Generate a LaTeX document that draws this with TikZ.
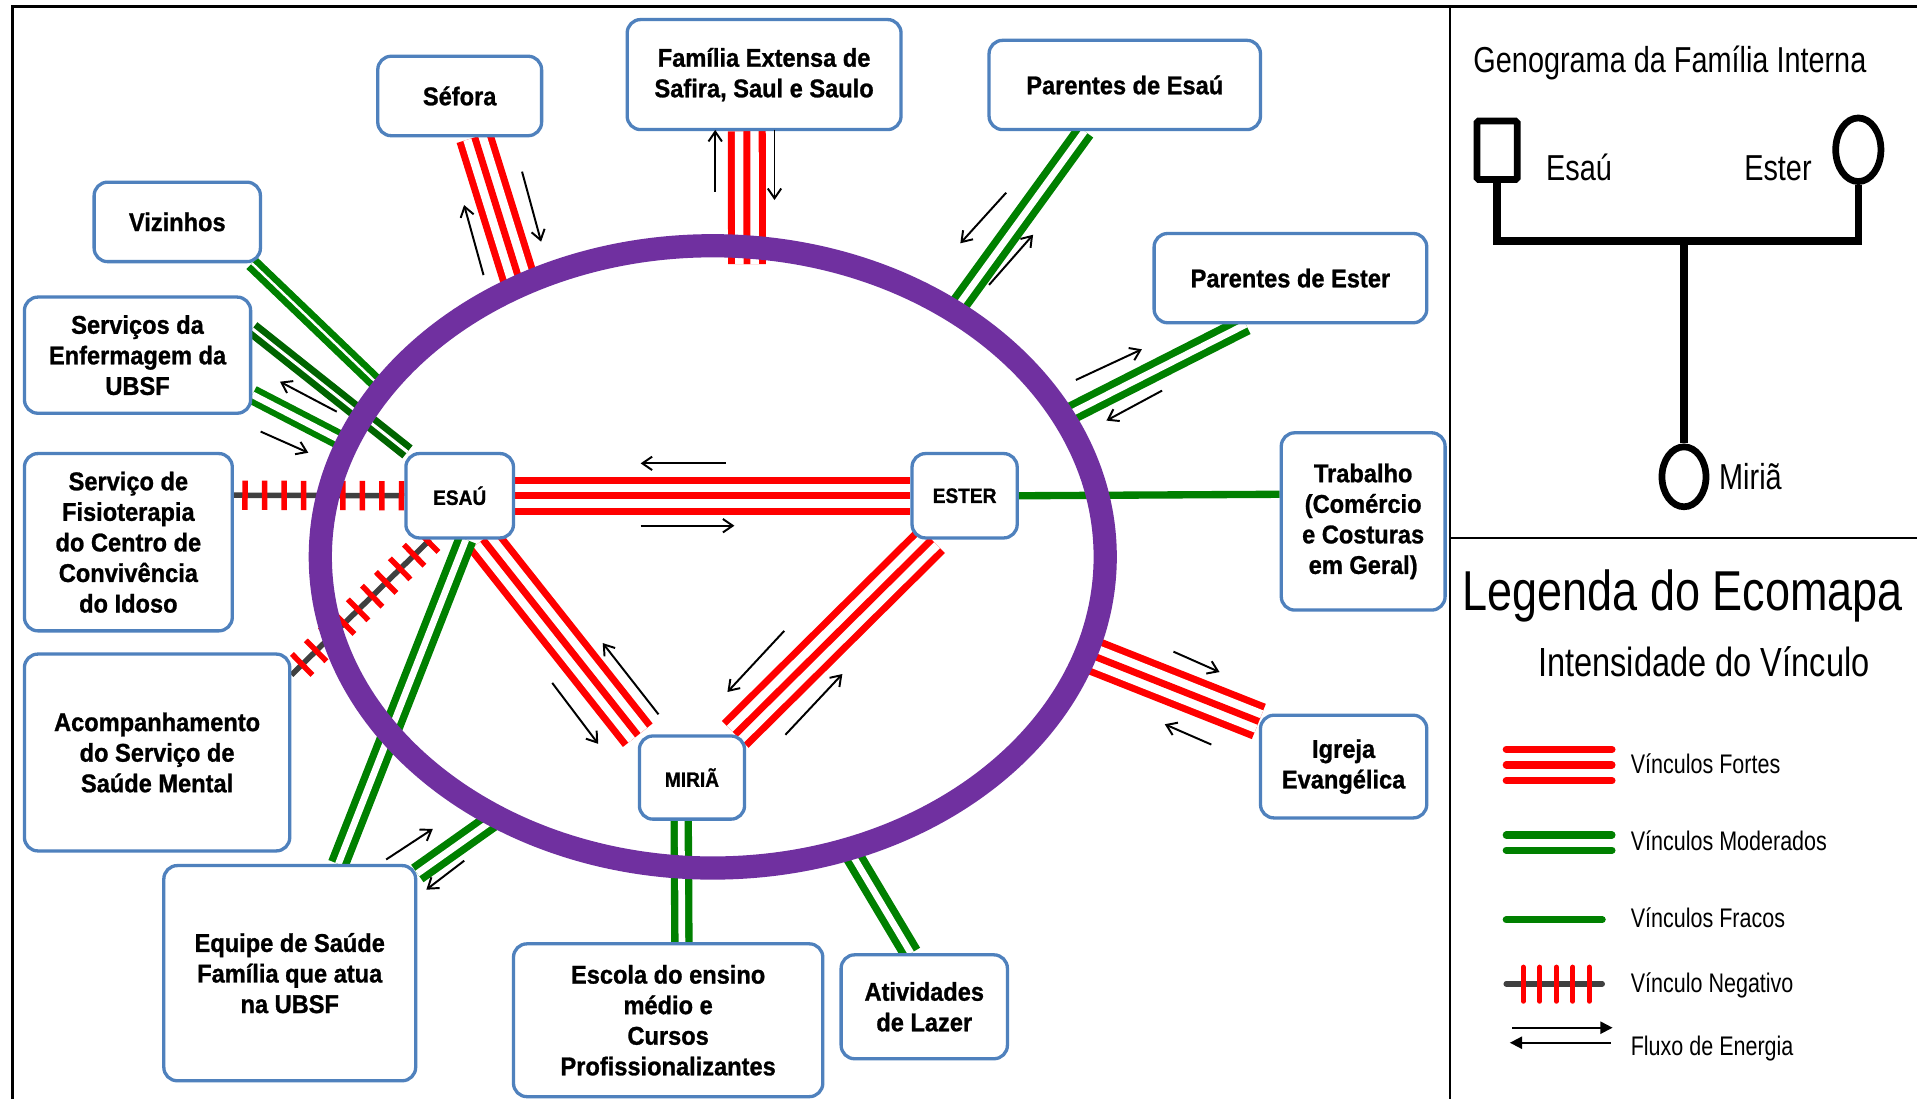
\documentclass[tikz,border=0pt]{standalone}
\usepackage{fontspec}
\setmainfont{Liberation Sans}[FakeStretch=0.92, BoldFeatures={FakeBold=1}]
\newfontfamily\legfont{Liberation Sans}[FakeStretch=0.80]
\usepackage{xcolor}
\definecolor{boxblue}{HTML}{4F81BD}
\definecolor{ecogreen}{HTML}{008000}
\definecolor{darkgreen}{HTML}{006400}
\definecolor{ecopurple}{HTML}{7030A0}
\definecolor{neggray}{HTML}{404040}
\usetikzlibrary{arrows.meta, shapes.geometric, backgrounds}
\tikzstyle{flow} = [line width=1.6pt, -{Straight Barb[length=8pt,width=11pt]}]

\begin{document}
\begin{tikzpicture}[x=1pt, y=-1pt]
        \tikzstyle{box} = [rectangle, draw=boxblue, line width=2.7pt, rounded corners=11pt, fill=white, align=center, inner sep=0pt, font=\bfseries\fontsize{21}{25}\selectfont]
        \tikzstyle{person} = [box, font=\bfseries\fontsize{17}{20}\selectfont]
        \tikzstyle{strongtie} = [draw=red, line width=31pt, postaction={draw=white, line width=19.5pt}, postaction={draw=red, line width=5.7pt}]
        \tikzstyle{modtie} = [draw=ecogreen, double=white, line width=6pt, double distance=5.5pt]
        \tikzstyle{weaktie} = [draw=ecogreen, line width=6pt]
        \tikzstyle{negtie} = [draw=neggray, line width=4.5pt, postaction={draw=red, line width=24pt, dash pattern=on 4.5pt off 11.5pt}]
        \tikzstyle{ring} = [draw=ecopurple, line width=19pt]
        \tikzstyle{legtext} = [anchor=base west, inner sep=0pt, font=\legfont\fontsize{22}{26}\selectfont]
        \tikzstyle{genline} = [line width=6pt]
        \tikzstyle{swatch} = [line width=5.8pt, line cap=round]

        \useasboundingbox (0,0) rectangle (1568,899);

        % family members
        \node[person, minimum width=88, minimum height=69](esau) at (376,405.5) {ESAÚ};
        \node[person, minimum width=86, minimum height=69](ester) at (789,405.5) {ESTER};
        \node[person, minimum width=86, minimum height=68](miria) at (566,636) {MIRIÃ};

        % outside systems
        \node[box, minimum width=134, minimum height=65](sefora) at (376,78.5) {Séfora};
        \node[box, minimum width=224, minimum height=90](familia) at (625,61) {Família Extensa de\\Safira, Saul e Saulo};
        \node[box, minimum width=222, minimum height=73](parEsau) at (920,69.5) {Parentes de Esaú};
        \node[box, minimum width=136, minimum height=65](vizinhos) at (145,181.5) {Vizinhos};
        \node[box, minimum width=223, minimum height=73](parEster) at (1055.5,227.5) {Parentes de Ester};
        \node[box, minimum width=185, minimum height=95](enferm) at (112.5,290.5) {Serviços da\\Enfermagem da\\UBSF};
        \node[box, minimum width=170, minimum height=145](fisio) at (105,443.5) {Serviço de\\Fisioterapia\\do Centro de\\Convivência\\do Idoso};
        \node[box, minimum width=134, minimum height=145](trabalho) at (1115,426.5) {Trabalho\\(Comércio\\e Costuras\\em Geral)};
        \node[box, minimum width=217, minimum height=161](acomp) at (128.5,615.5) {Acompanhamento\\do Serviço de\\Saúde Mental};
        \node[box, minimum width=136, minimum height=84](igreja) at (1099,627) {Igreja\\Evangélica};
        \node[box, minimum width=206, minimum height=176](equipe) at (237,796) {Equipe de Saúde\\Família que atua\\na UBSF};
        \node[box, minimum width=253, minimum height=125](escola) at (546.5,834.5) {Escola do ensino\\médio e\\Cursos\\Profissionalizantes};
        \node[box, minimum width=136, minimum height=85](lazer) at (756,823.5) {Atividades\\de Lazer};

        % points on the ring
        \coordinate (eco) at (583,455.5);
        \coordinate (pSefora) at (426,233);
        \coordinate (pFam) at (611,216);
        \coordinate (pParEsau) at (780,255);
        \coordinate (pParEster) at (870,341);
        \coordinate (pIgreja) at (888,534);
        \coordinate (pLazer) at (694,694);
        \coordinate (pEquipe) at (407,668);
        \coordinate (pEnferm) at (284,363);
        \coordinate (pViz) at (313,318);

        \begin{pgfonlayer}{background}
        \fill[white] (0,0) rectangle (1568,899);

        \draw[strongtie] (esau.east) -- (ester.west);
        \draw[strongtie] (esau.298) -- (miria.142);
        \draw[strongtie] (ester.233) -- (miria.45);
        \draw[strongtie] (sefora.290) -- (pSefora);
        \draw[strongtie] (familia.253) -- (pFam);
        \draw[strongtie] (igreja.152) -- (pIgreja);

        \draw[modtie] (esau.278) -- (equipe.66);
        \draw[modtie] (equipe.38) -- (pEquipe);
        \draw[modtie, double distance=2pt, line width=5.5pt] (vizinhos.331) -- (pViz);
        \draw[modtie, draw=darkgreen, double distance=2.5pt, line width=5.5pt] (enferm.13) -- (esau.140);
        \draw[modtie, line width=5pt] (enferm.341) -- (pEnferm);
        \draw[modtie] (parEsau.229) -- (pParEsau);
        \draw[modtie] (parEster.226) -- (pParEster);
        \draw[modtie] (miria.256) -- (escola.80);
        \draw[modtie] (lazer.104) -- (pLazer);

        \draw[weaktie] (ester.east) -- (trabalho.162);

        \draw[negtie] (esau.west) -- (fisio.24);
        \draw[negtie] (esau.236) -- (acomp.30);

        % the ring goes over the ties
        \draw[ring] (eco) ellipse [x radius=321, y radius=254.5];
        \end{pgfonlayer}

        % energy flow
        \draw[flow] (593.6,379) -- (524,379);
        \draw[flow] (524,430) -- (600.7,430);
        \draw[flow] (538.6,584.3) -- (493,526);
        \draw[flow] (451.7,558.6) -- (489.3,608.4);
        \draw[flow] (641.5,516) -- (595,566);
        \draw[flow] (642.4,601) -- (689,551.3);
        \draw[flow] (395.5,225) -- (379.6,167.7);
        \draw[flow] (427,140.4) -- (442.6,197.7);
        \draw[flow] (585,156.8) -- (585,106.3);
        \draw[flow] (633.5,106) -- (633.5,163.6);
        \draw[flow] (823,157.6) -- (785.5,199);
        \draw[flow] (809,233) -- (845,192);
        \draw[flow] (880,310.8) -- (934,285.7);
        \draw[flow] (950.5,319.5) -- (905,344);
        \draw[flow] (959.8,533) -- (997.5,549.7);
        \draw[flow] (990.8,609) -- (952.7,592.4);
        \draw[flow] (315.9,703) -- (354,678);
        \draw[flow] (379.7,704) -- (348.7,727.7);
        \draw[flow] (275.4,336.7) -- (229,312.2);
        \draw[flow] (213.2,353) -- (252.2,370.3);

        % frame
        \draw[line width=2.5pt] (10,899) -- (10,5.5) -- (1568,5.5);
        \draw[line width=2pt] (1186,5.5) -- (1186,899);
        \draw[line width=1.5pt] (1186,440) -- (1568,440);

        % genogram
        \node[legtext, font=\legfont\fontsize{29.5}{34}\selectfont](genTitle) at (1205,59) {Genograma da Família Interna};
        \node[draw, line width=5.5pt, rounded corners=1.5pt, minimum width=33, minimum height=48, inner sep=0pt](gEsau) at (1224.5,122.9) {};
        \node[ellipse, draw, line width=5.5pt, minimum width=37, minimum height=52, inner sep=0pt](gEster) at (1520,122.5) {};
        \node[ellipse, draw, line width=5.5pt, minimum width=36, minimum height=49, inner sep=0pt](gMiria) at (1377.4,390) {};
        \coordinate (gBar) at (1377.4,197);
        \draw[genline] (gEsau.south) |- (gBar) -| (gEster.south);
        \draw[genline] (gBar) -- (gMiria.north);
        \node[legtext, font=\legfont\fontsize{29.5}{34}\selectfont](gEsauLbl) at (1264.5,148) {Esaú};
        \node[legtext, font=\legfont\fontsize{29.5}{34}\selectfont](gEsterLbl) at (1426.5,148) {Ester};
        \node[legtext, font=\legfont\fontsize{29.5}{34}\selectfont](gMiriaLbl) at (1406,400) {Miriã};

        % legend
        \node[legtext, font=\legfont\fontsize{46}{52}\selectfont](legTitle) at (1196,499) {Legenda do Ecomapa};
        \node[legtext, font=\legfont\fontsize{33.3}{38}\selectfont](legSub) at (1258,553) {Intensidade do Vínculo};

        \draw[swatch, red] (1232,613) -- (1318.5,613);
        \draw[swatch, red] (1232,625.7) -- (1318.5,625.7);
        \draw[swatch, red] (1232,638.5) -- (1318.5,638.5);
        \draw[swatch, ecogreen] (1232,683) -- (1318.5,683);
        \draw[swatch, ecogreen] (1232,695.4) -- (1318.5,695.4);
        \draw[swatch, ecogreen] (1232,752.3) -- (1310.5,752.3);
        \draw[swatch, neggray, line width=4.5pt] (1232,804.7) -- (1310.5,804.7);
        \foreach \x in {1246,1259.5,1273,1286.5,1300}
            \draw[red, line width=4pt, line cap=round] (\x,791) -- (\x,819);
        \draw[line width=1.5pt, -{Triangle[length=10pt,width=10pt]}] (1237,840.6) -- (1319,840.6);
        \draw[line width=1.5pt, -{Triangle[length=10pt,width=10pt]}] (1317.4,852.9) -- (1235,852.9);

        \node[legtext](legForte) at (1333.7,632.7) {Vínculos Fortes};
        \node[legtext](legModerado) at (1333.7,695.3) {Vínculos Moderados};
        \node[legtext](legFraco) at (1333.7,758.6) {Vínculos Fracos};
        \node[legtext](legNegativo) at (1333.7,811.4) {Vínculo Negativo};
        \node[legtext](legFluxo) at (1333.7,863.7) {Fluxo de Energia};
\end{tikzpicture}
\end{document}
